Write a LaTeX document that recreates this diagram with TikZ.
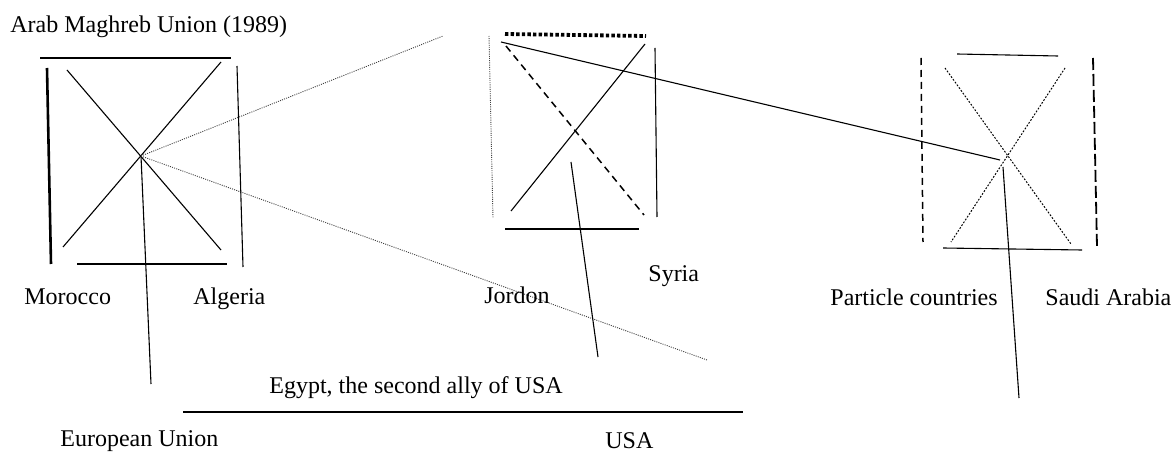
\documentclass[tikz,border=0pt]{standalone}
\usepackage{fontspec}
\setmainfont{Liberation Serif}
\usetikzlibrary{positioning}
\tikzset{
    plainline/.style={line width=0.55pt},
    heavyline/.style={line width=1.3pt},
    finedots/.style={line width=0.45pt, dash pattern=on 0.5pt off 0.6pt, draw=black!75},
    smalldots/.style={line width=0.5pt, dash pattern=on 0.9pt off 0.8pt},
    fatdots/.style={line width=1.9pt, dash pattern=on 1.7pt off 1.1pt},
    shortdash/.style={line width=0.75pt, dash pattern=on 3.5pt off 2.5pt},
    longdash/.style={line width=0.9pt, dash pattern=on 6pt off 2pt},
    country/.style={font=\fontsize{12}{14}\selectfont, inner sep=0pt, anchor=base west},
}

\begin{document}
\begin{tikzpicture}[x=0.5pt, y=-0.5pt]
    \useasboundingbox (0,0) rectangle (1172,454);

    % Maghreb box
    \coordinate (maghreb) at (141,156);
    \draw[plainline] (40,58) -- (231,58);
    \draw[heavyline] (47,68) -- (51,264);
    \draw[plainline] (67,70) -- (221,250);
    \draw[plainline] (221,62) -- (63,247);
    \draw[plainline] (237,66) -- (243,267);
    \draw[plainline] (77,264) -- (227,264);

    % Jordon / Syria box
    \coordinate (levant) at (501,42);
    \coordinate (levantfoot) at (571,162);
    \draw[finedots] (489,36) -- (493,218);
    \draw[fatdots] (505,34) -- (646,36);
    \draw[shortdash] (506,46) -- (644,215);
    \draw[plainline] (645,44) -- (511,211);
    \draw[plainline] (655,48) -- (657,217);
    \draw[plainline] (505,229) -- (639,229);

    % Gulf box
    \coordinate (gulf) at (1000,160);
    \coordinate (gulffoot) at (1003,167);
    \draw[shortdash] (921,58) -- (923,242);
    \draw[plainline] (957,54) -- (1058,56);
    \draw[longdash] (1093,58) -- (1097,247);
    \draw[smalldots] (945,68) -- (1071,244);
    \draw[smalldots] (1065,68) -- (951,242);
    \draw[plainline] (943,248) -- (1082,250);

    % free ends
    \coordinate (euTip) at (151,384);
    \coordinate (upTip) at (443,36);
    \coordinate (downTip) at (707,360);
    \coordinate (usaTip) at (598,357);
    \coordinate (gulfTip) at (1019,398);
    \coordinate (egyptL) at (183,412);
    \coordinate (egyptR) at (743,412);

    % links
    \draw[plainline] (maghreb) -- (euTip);
    \draw[finedots] (maghreb) -- (upTip);
    \draw[finedots] (maghreb) -- (downTip);
    \draw[plainline] (levant) -- (gulf);
    \draw[plainline] (levantfoot) -- (usaTip);
    \draw[plainline] (gulffoot) -- (gulfTip);
    \draw[plainline] (egyptL) -- (egyptR);

    % Labels
    \node[country] (amu) at (10,33) {Arab Maghreb Union (1989)};
    \node[country] (morocco) at (24,305) {Morocco};
    \node[country] (algeria) at (193,305) {Algeria};
    \node[country] (jordon) at (484,303) {Jordon};
    \node[country] (syria) at (648,282) {Syria};
    \node[country] (particle) at (830,306) {Particle countries};
    \node[country] (saudi) at (1045,306) {Saudi Arabia};
    \node[country] (egypt) at (269,393) {Egypt, the second ally of USA};
    \node[country] (eu) at (60,446) {European Union};
    \node[country] (usa) at (605,448) {USA};
\end{tikzpicture}
\end{document}
